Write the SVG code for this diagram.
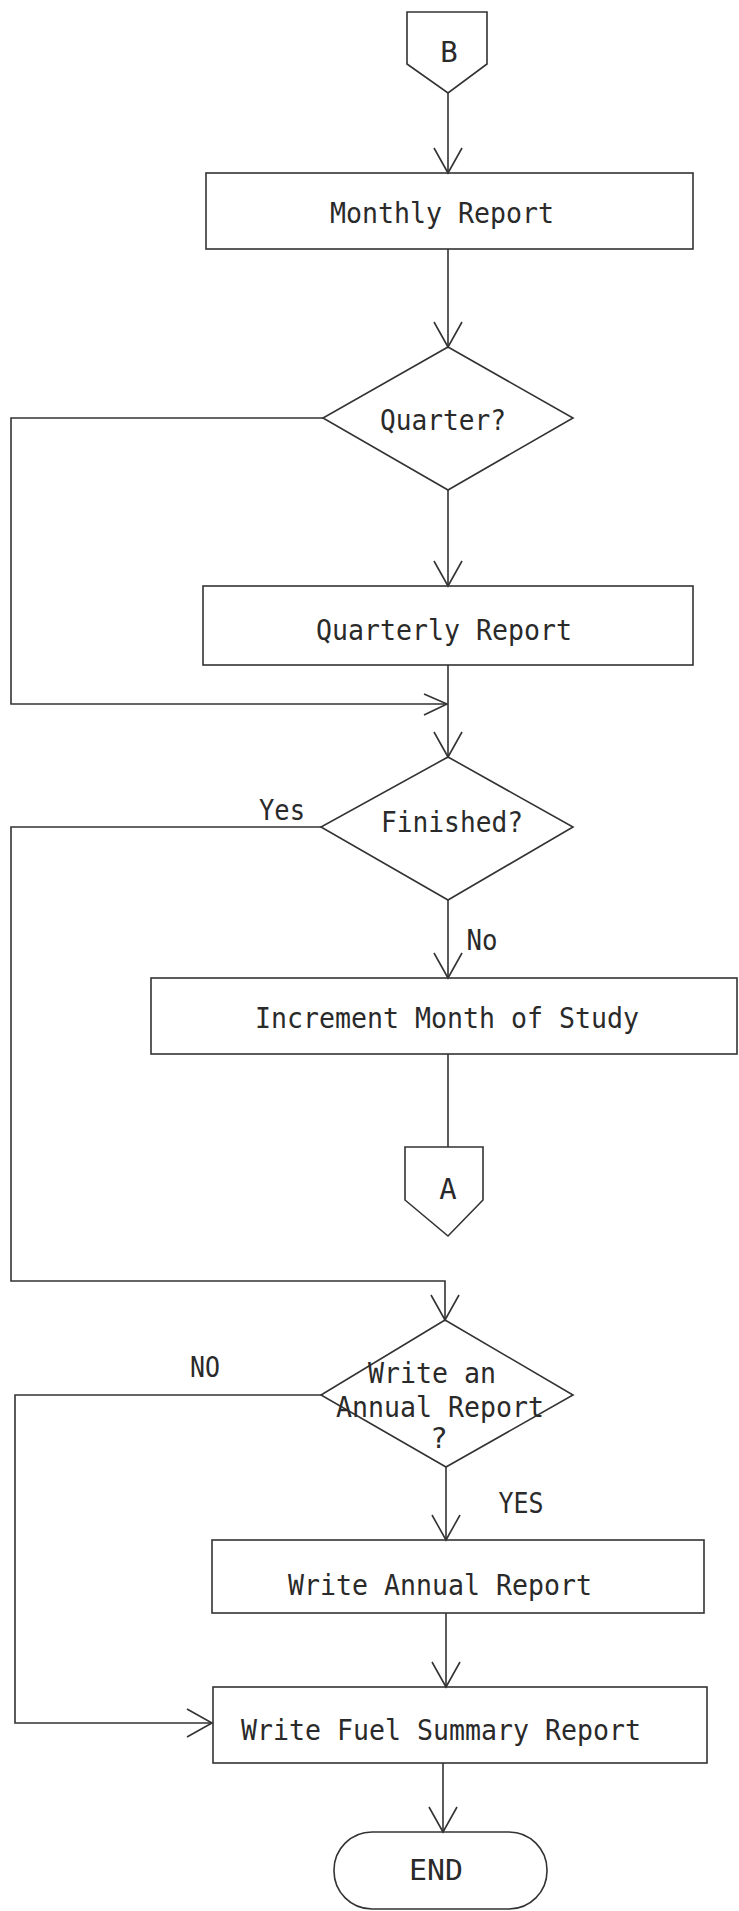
<svg xmlns="http://www.w3.org/2000/svg" width="739" height="1911" viewBox="0 0 739 1911">
  <style>
    .shape { fill: none; stroke: #333; stroke-width: 1.6; stroke-linejoin: miter; }
    .wire { fill: none; stroke: #333; stroke-width: 1.6; }
    .label { font-family: "DejaVu Sans Mono", "Liberation Mono", monospace; font-size: 29px; fill: #2a2a2a; text-anchor: middle; }
  </style>
  <defs>
    <marker id="arrow" markerUnits="userSpaceOnUse" markerWidth="40" markerHeight="40" refX="0" refY="0" orient="auto" overflow="visible">
      <path d="M-25,-14 L0,0 L-25,14" fill="none" stroke="#333" stroke-width="1.6"/>
    </marker>
    <marker id="arrow-small" markerUnits="userSpaceOnUse" markerWidth="40" markerHeight="40" refX="0" refY="0" orient="auto" overflow="visible">
      <path d="M-23,-10 L0,0 L-23,11" fill="none" stroke="#333" stroke-width="1.6"/>
    </marker>
  </defs>
  <rect x="0" y="0" width="739" height="1911" fill="#fff"/>

  <g id="connectors">
    <path class="wire" d="M448,93 L448,173" marker-end="url(#arrow)"/>
    <path class="wire" d="M448,249 L448,347" marker-end="url(#arrow)"/>
    <path class="wire" d="M448,490 L448,586" marker-end="url(#arrow)"/>
    <path class="wire" d="M323,418 L11,418 L11,704 L447,704" marker-end="url(#arrow-small)"/>
    <path class="wire" d="M448,665 L448,757" marker-end="url(#arrow)"/>
    <path class="wire" d="M448,900 L448,978" marker-end="url(#arrow)"/>
    <path class="wire" d="M448,1054 L448,1147"/>
    <path class="wire" d="M321,827 L11,827 L11,1281 L445,1281 L445,1320" marker-end="url(#arrow)"/>
    <path class="wire" d="M446,1467 L446,1540" marker-end="url(#arrow)"/>
    <path class="wire" d="M321,1395 L15,1395 L15,1723 L212,1723" marker-end="url(#arrow)"/>
    <path class="wire" d="M446,1613 L446,1687" marker-end="url(#arrow)"/>
    <path class="wire" d="M443,1763 L443,1832" marker-end="url(#arrow)"/>
    <text class="label" x="282" y="820" textLength="46" lengthAdjust="spacingAndGlyphs">Yes</text>
    <text class="label" x="482" y="950" textLength="31" lengthAdjust="spacingAndGlyphs">No</text>
    <text class="label" x="205" y="1377" textLength="30" lengthAdjust="spacingAndGlyphs">NO</text>
    <text class="label" x="521" y="1513" textLength="45" lengthAdjust="spacingAndGlyphs">YES</text>
  </g>

  <g id="connector-b">
    <path class="shape" d="M407,12 L487,12 L487,64 L448,93 L407,64 Z"/>
    <text class="label" x="449" y="62">B</text>
  </g>

  <g id="monthly-report">
    <rect class="shape" x="206" y="173" width="487" height="76"/>
    <text class="label" x="442" y="223" textLength="224" lengthAdjust="spacingAndGlyphs">Monthly Report</text>
  </g>

  <g id="quarter-decision">
    <path class="shape" d="M448,347 L573,418 L448,490 L323,418 Z"/>
    <text class="label" x="443" y="430" textLength="126" lengthAdjust="spacingAndGlyphs">Quarter?</text>
  </g>

  <g id="quarterly-report">
    <rect class="shape" x="203" y="586" width="490" height="79"/>
    <text class="label" x="444" y="640" textLength="256" lengthAdjust="spacingAndGlyphs">Quarterly Report</text>
  </g>

  <g id="finished-decision">
    <path class="shape" d="M448,757 L573,827 L448,900 L321,827 Z"/>
    <text class="label" x="452" y="832" textLength="142" lengthAdjust="spacingAndGlyphs">Finished?</text>
  </g>

  <g id="increment-month">
    <rect class="shape" x="151" y="978" width="586" height="76"/>
    <text class="label" x="447" y="1028" textLength="384" lengthAdjust="spacingAndGlyphs">Increment Month of Study</text>
  </g>

  <g id="connector-a">
    <path class="shape" d="M405,1147 L483,1147 L483,1200 L448,1236 L405,1200 Z"/>
    <text class="label" x="448" y="1199">A</text>
  </g>

  <g id="annual-decision">
    <path class="shape" d="M445,1320 L573,1395 L446,1467 L321,1395 Z"/>
    <text class="label" x="432" y="1383" textLength="128" lengthAdjust="spacingAndGlyphs">Write an</text>
    <text class="label" x="440" y="1417" textLength="208" lengthAdjust="spacingAndGlyphs">Annual Report</text>
    <text class="label" x="439" y="1448">?</text>
  </g>

  <g id="write-annual-report">
    <rect class="shape" x="212" y="1540" width="492" height="73"/>
    <text class="label" x="440" y="1595" textLength="304" lengthAdjust="spacingAndGlyphs">Write Annual Report</text>
  </g>

  <g id="write-fuel-summary">
    <rect class="shape" x="213" y="1687" width="494" height="76"/>
    <text class="label" x="441" y="1740" textLength="400" lengthAdjust="spacingAndGlyphs">Write Fuel Summary Report</text>
  </g>

  <g id="end">
    <rect class="shape" x="334" y="1832" width="213" height="77" rx="38" ry="38"/>
    <text class="label" x="436" y="1880" textLength="54" lengthAdjust="spacingAndGlyphs">END</text>
  </g>
</svg>
